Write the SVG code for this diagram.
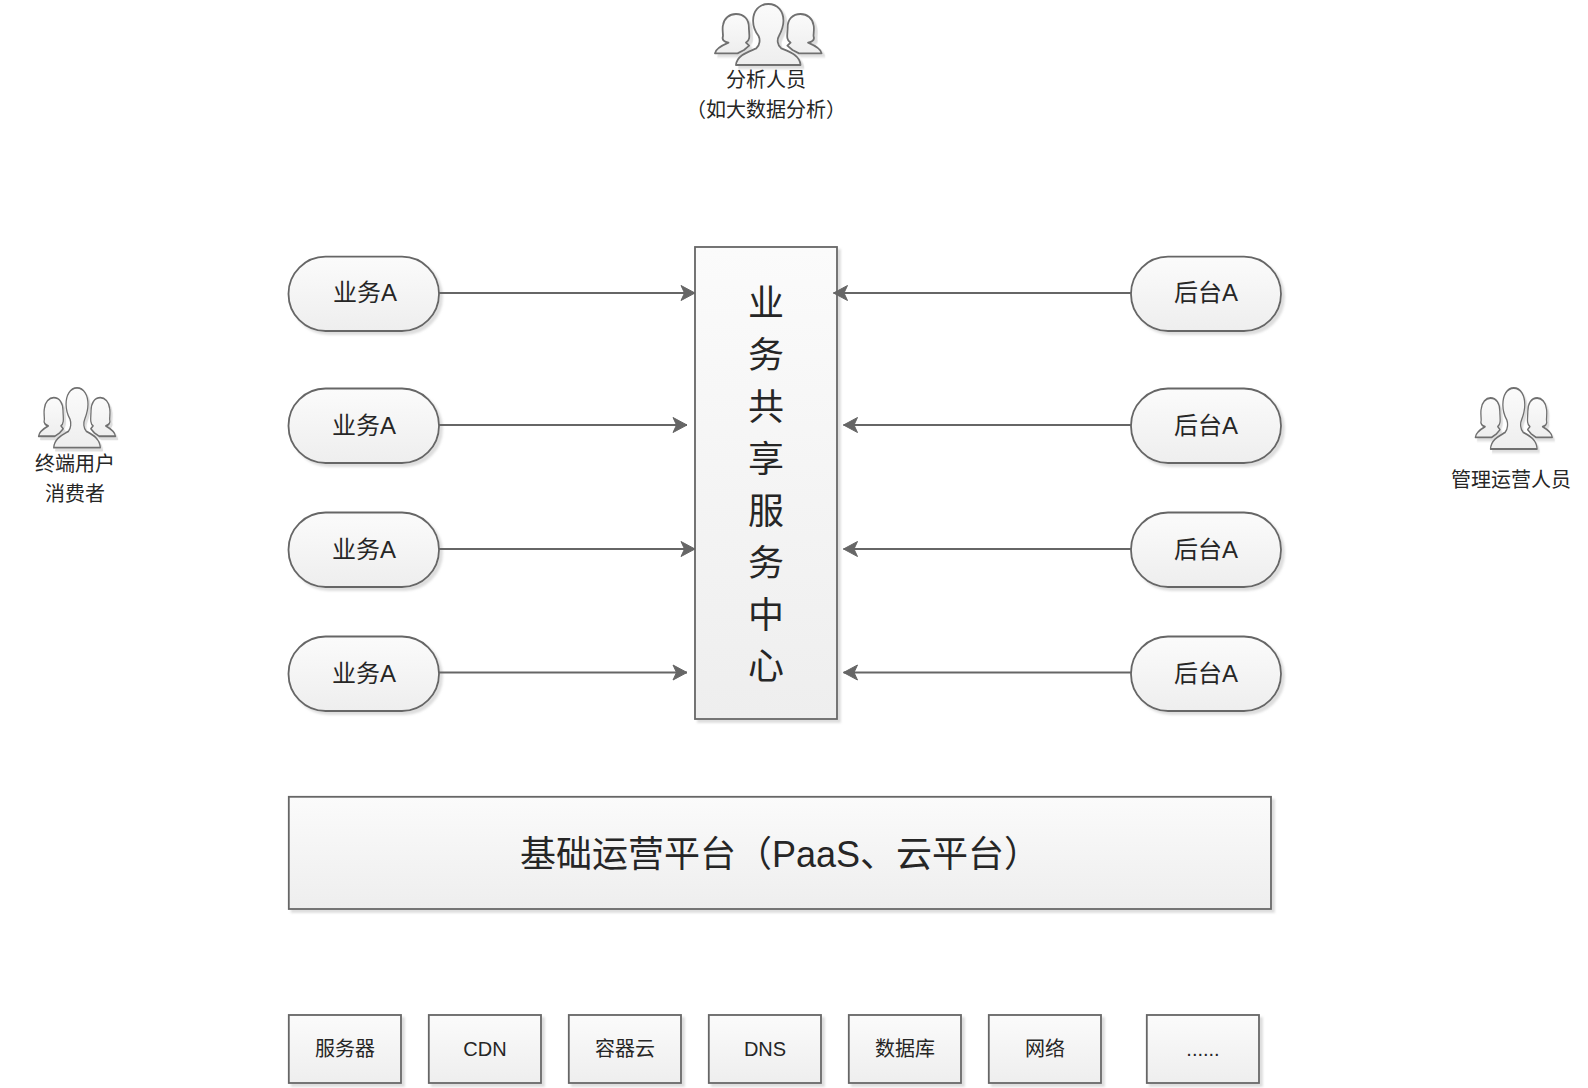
<svg xmlns="http://www.w3.org/2000/svg" xmlns:xlink="http://www.w3.org/1999/xlink" width="1588" height="1088" viewBox="0 0 1588 1088">
<style>
.s{fill:url(#g);stroke:#666;stroke-width:1.8;filter:url(#sh)}
.t{font-family:"Liberation Sans","Noto Sans CJK SC",sans-serif;fill:#262626;text-anchor:middle}
.f24{font-size:24px}.f20{font-size:20px}.f36{font-size:36px}
.c{stroke:#666;stroke-width:1.8;fill:none;marker-end:url(#a)}
.p{fill:url(#g);stroke:#707070;stroke-width:5.5;stroke-linejoin:round}
</style>
<defs>
<linearGradient id="g" x1="0" y1="0" x2="0" y2="1"><stop offset="0" stop-color="#fbfbfb"/><stop offset="1" stop-color="#eeeeee"/></linearGradient>
<filter id="sh" x="-5%" y="-5%" width="112%" height="115%"><feDropShadow dx="3" dy="3" stdDeviation="0.8" flood-color="#c8c8c8" flood-opacity="0.6"/></filter>
<marker id="a" markerUnits="userSpaceOnUse" markerWidth="18" markerHeight="20" refX="15" refY="9" orient="auto"><path d="M1 1.500L15 9L1 16.500L4.500 9Z" fill="#666" stroke="#666" stroke-width="1"/></marker>
<g id="people" filter="url(#sh)">
<g transform="scale(0.3333)">
<path class="p" d="M165 42C190 42 205 58 205 82C205 100 212 120 196 128L206 137L190 150L170 160L100 160C102 145 125 135 142 128C130 126 120 120 125 108C125 100 122 85 125 75C128 55 145 42 165 42Z"/>
<path class="p" d="M365 42C340 42 325 58 325 82C325 100 318 120 334 128L324 137L340 150L360 160L430 160C428 145 405 135 388 128C400 126 410 120 405 108C405 100 408 85 405 75C402 55 385 42 365 42Z"/>
<path class="p" d="M265 12C295 12 312 35 312 62C312 80 305 95 298 108C292 118 292 135 305 145C330 155 362 165 365 195L165 195C168 165 205 155 228 145C240 135 240 118 235 108C225 95 218 80 218 62C218 35 235 12 265 12Z"/>
</g>
</g>
</defs>
<rect width="1588" height="1088" fill="#fff"/>

<g id="actor-analyst"><use xlink:href="#people" href="#people" transform="translate(682.600 0) scale(0.97 1)"/><text class="t f20" x="766" y="87">分析人员</text><text class="t f20" x="766" y="117">（如大数据分析）</text></g>
<g id="actor-user"><use xlink:href="#people" href="#people" transform="translate(15.200 384) scale(0.7 0.98)"/><text class="t f20" x="75" y="471">终端用户</text><text class="t f20" x="75" y="501">消费者</text></g>
<g id="actor-admin"><use xlink:href="#people" href="#people" transform="translate(1452 384) scale(0.7 1)"/><text class="t f20" x="1511" y="487">管理运营人员</text></g>

<g id="biz-1"><rect class="s" x="288.500" y="256.700" width="150.500" height="74.300" rx="37" ry="37"/><text class="t f24" x="365" y="301">业务A</text></g>
<g id="biz-2"><rect class="s" x="288.500" y="388.500" width="150.500" height="74.500" rx="37" ry="37"/><text class="t f24" x="364" y="434">业务A</text></g>
<g id="biz-3"><rect class="s" x="288.500" y="512.500" width="150.500" height="74.500" rx="37" ry="37"/><text class="t f24" x="364" y="558">业务A</text></g>
<g id="biz-4"><rect class="s" x="288.500" y="636.500" width="150.500" height="74.500" rx="37" ry="37"/><text class="t f24" x="364" y="682">业务A</text></g>

<g id="back-1"><rect class="s" x="1131" y="256.700" width="150" height="74.300" rx="37" ry="37"/><text class="t f24" x="1206" y="301">后台A</text></g>
<g id="back-2"><rect class="s" x="1131" y="388.500" width="150" height="74.500" rx="37" ry="37"/><text class="t f24" x="1206" y="434">后台A</text></g>
<g id="back-3"><rect class="s" x="1131" y="512.500" width="150" height="74.500" rx="37" ry="37"/><text class="t f24" x="1206" y="558">后台A</text></g>
<g id="back-4"><rect class="s" x="1131" y="636.500" width="150" height="74.500" rx="37" ry="37"/><text class="t f24" x="1206" y="682">后台A</text></g>

<g id="shared-center"><rect class="s" x="695" y="247" width="142" height="472"/>
<text class="t f36" x="766" y="316">业</text><text class="t f36" x="766" y="368">务</text><text class="t f36" x="766" y="420">共</text><text class="t f36" x="766" y="472">享</text><text class="t f36" x="766" y="524">服</text><text class="t f36" x="766" y="576">务</text><text class="t f36" x="766" y="628">中</text><text class="t f36" x="766" y="679">心</text></g>

<g id="platform"><rect class="s" x="288.800" y="796.800" width="982.200" height="112.200"/><text class="t f36" x="780" y="867">基础运营平台（PaaS、云平台）</text></g>

<g id="res-1"><rect class="s" x="288.800" y="1015" width="112.200" height="68"/><text class="t f20" x="345" y="1056">服务器</text></g>
<g id="res-2"><rect class="s" x="428.800" y="1015" width="112.200" height="68"/><text class="t f20" x="485" y="1056">CDN</text></g>
<g id="res-3"><rect class="s" x="568.800" y="1015" width="112.200" height="68"/><text class="t f20" x="625" y="1056">容器云</text></g>
<g id="res-4"><rect class="s" x="708.800" y="1015" width="112.200" height="68"/><text class="t f20" x="765" y="1056">DNS</text></g>
<g id="res-5"><rect class="s" x="848.800" y="1015" width="112.200" height="68"/><text class="t f20" x="905" y="1056">数据库</text></g>
<g id="res-6"><rect class="s" x="988.800" y="1015" width="112.200" height="68"/><text class="t f20" x="1045" y="1056">网络</text></g>
<g id="res-7"><rect class="s" x="1146.800" y="1015" width="112.200" height="68"/><text class="t f20" x="1203" y="1056">......</text></g>

<g id="connectors">
<path class="c" d="M439 293H695"/>
<path class="c" d="M439 425H687"/>
<path class="c" d="M439 549H695"/>
<path class="c" d="M439 672.500H687"/>
<path class="c" d="M1131 293H833.500"/>
<path class="c" d="M1131 425H843.500"/>
<path class="c" d="M1131 549H843.500"/>
<path class="c" d="M1131 672.500H843.500"/>
</g>
</svg>
